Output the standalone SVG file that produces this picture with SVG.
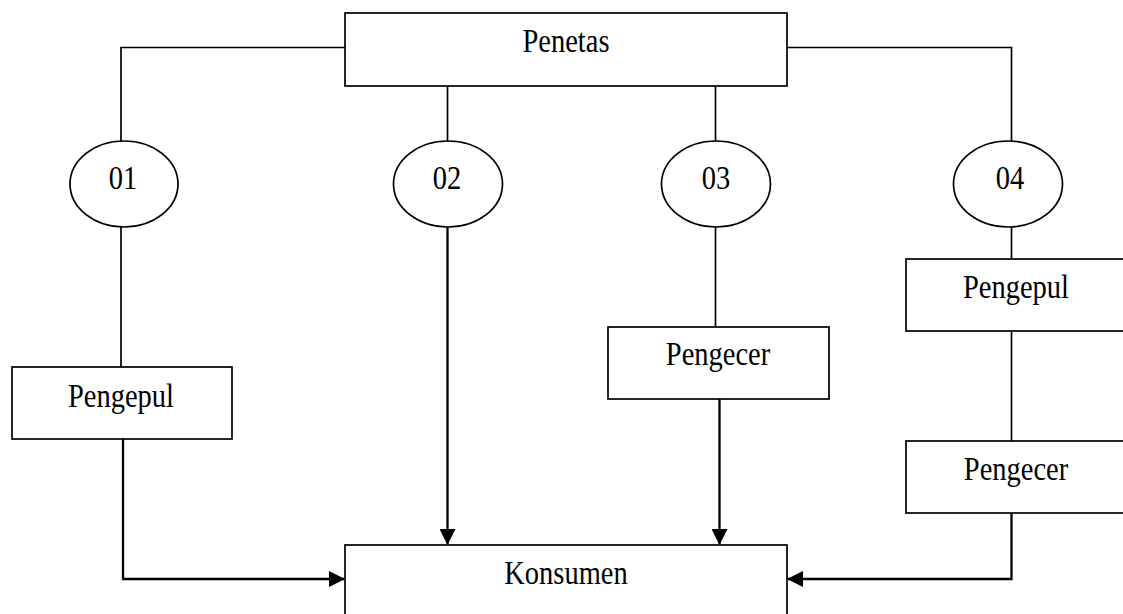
<svg xmlns="http://www.w3.org/2000/svg" width="1123" height="614" viewBox="0 0 1123 614">
<defs>
<style>
.box{fill:#fff;stroke:#000;stroke-width:1.7}
.ell{fill:#fff;stroke:#000;stroke-width:1.7}
.ln{fill:none;stroke:#000;stroke-width:1.7}
.ar{fill:none;stroke:#000;stroke-width:2.3}
.t{font-family:"Liberation Serif","Times New Roman",serif;font-size:28.5px;fill:#000;text-anchor:middle}
</style>
<marker id="ah" markerUnits="userSpaceOnUse" markerWidth="16" markerHeight="16" viewBox="0 0 16 16" refX="15" refY="8" orient="auto">
<path d="M0,0 L16,8 L0,16 Z" fill="#000"/>
</marker>
</defs>
<rect width="1123" height="614" fill="#fff"/>
<g id="connectors">
<polyline class="ln" points="345,47.5 121,47.5 121,141"/>
<polyline class="ln" points="787,47.5 1011.5,47.5 1011.5,141"/>
<line class="ln" x1="447.5" y1="86" x2="447.5" y2="141"/>
<line class="ln" x1="715.5" y1="86" x2="715.5" y2="141"/>
<line class="ln" x1="121" y1="227" x2="121" y2="367"/>
<line class="ln" x1="715.5" y1="227" x2="715.5" y2="327"/>
<line class="ln" x1="1011.5" y1="227" x2="1011.5" y2="259"/>
<line class="ln" x1="1011.5" y1="331" x2="1011.5" y2="441"/>
<polyline class="ar" points="123,439 123,579 344,579" marker-end="url(#ah)"/>
<line class="ar" x1="447.5" y1="227" x2="447.5" y2="544" marker-end="url(#ah)"/>
<line class="ar" x1="719.5" y1="399" x2="719.5" y2="544" marker-end="url(#ah)"/>
<polyline class="ar" points="1011.5,513 1011.5,579 788,579" marker-end="url(#ah)"/>
</g>
<g id="penetas"><rect class="box" x="345" y="13" width="442" height="73"/><text class="t" transform="translate(566,52) scale(1,1.15)">Penetas</text></g>
<g id="e01"><ellipse class="ell" cx="124" cy="184" rx="54" ry="43"/><text class="t" transform="translate(123,189) scale(1,1.15)">01</text></g>
<g id="e02"><ellipse class="ell" cx="448" cy="184" rx="54.5" ry="43"/><text class="t" transform="translate(447,189) scale(1,1.15)">02</text></g>
<g id="e03"><ellipse class="ell" cx="716" cy="184" rx="54.5" ry="43"/><text class="t" transform="translate(716,189) scale(1,1.15)">03</text></g>
<g id="e04"><ellipse class="ell" cx="1008" cy="184" rx="54.5" ry="43"/><text class="t" transform="translate(1010,189) scale(1,1.15)">04</text></g>
<g id="pengepul1"><rect class="box" x="12" y="367" width="220" height="72"/><text class="t" transform="translate(121,407) scale(1,1.15)">Pengepul</text></g>
<g id="pengecer1"><rect class="box" x="608" y="327" width="221" height="72"/><text class="t" transform="translate(718,365) scale(1,1.15)">Pengecer</text></g>
<g id="pengepul2"><rect class="box" x="906" y="259" width="221" height="72"/><text class="t" transform="translate(1016,298) scale(1,1.15)">Pengepul</text></g>
<g id="pengecer2"><rect class="box" x="906" y="441" width="221" height="72"/><text class="t" transform="translate(1016,480) scale(1,1.15)">Pengecer</text></g>
<g id="konsumen"><rect class="box" x="345" y="545" width="442" height="80"/><text class="t" transform="translate(566,584) scale(1,1.15)">Konsumen</text></g>
</svg>
